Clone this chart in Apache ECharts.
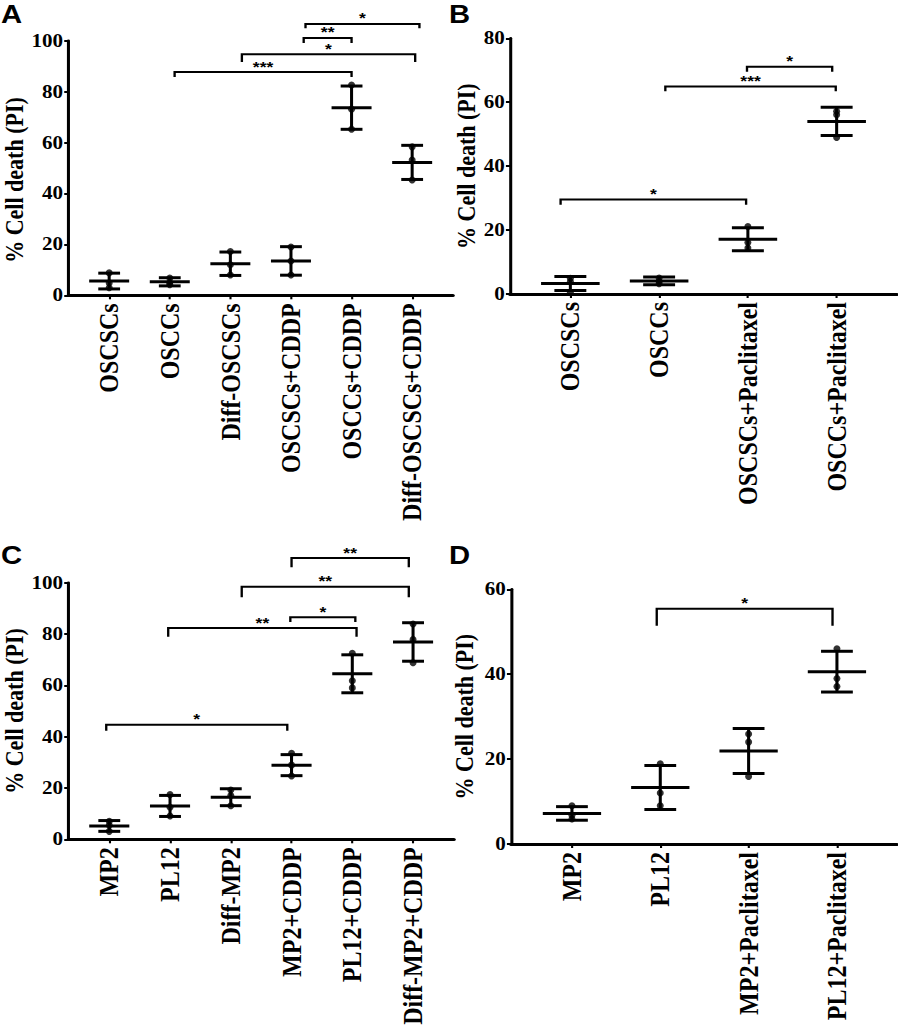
<!DOCTYPE html>
<html>
<head>
<meta charset="utf-8">
<script src="https://cdn.jsdelivr.net/npm/echarts@6/dist/echarts.min.js"></script>
<style>
    html, body { margin: 0; padding: 0; background: #fff; overflow: hidden; }
    /* the published figure is stretched sideways, so the chart is drawn narrow and widened */
    #chart { width: 767.5px; height: 1028px; transform: scaleX(1.17); transform-origin: 0 0; }
</style>
</head>
<body>
<div id="chart"></div>
<script>
// A - CDDP on OSCSCs / OSCCs
const groupsA = ['OSCSCs', 'OSCCs', 'Diff-OSCSCs', 'OSCSCs+CDDP', 'OSCCs+CDDP', 'Diff-OSCSCs+CDDP']
const pointsA = [[8.8, 4.8, 3.0], [6.8, 5.0, 4.2], [17.2, 12.0, 8.0], [19.0, 13.5, 8.0], [82.6, 73.1, 65.2], [58.3, 53.1, 45.3]]
const meansA = [5.6, 5.3, 12.4, 13.5, 73.7, 52.2]
const sdsA = [3.1, 1.6, 4.6, 5.6, 8.5, 6.7]
// [from group, to group, bar level, leg end]
const bracketsA = [[1.08, 4.0, 87.7, 85.7], [2.19, 5.05, 94.7, 91.6], [3.21, 4.0, 101.1, 99.1], [3.24, 5.12, 106.6, 104.9]]
const starsA = ['***', '*', '**', '*']
const yTicksA = [0, 20, 40, 60, 80, 100]

// B - paclitaxel on OSCSCs / OSCCs
const groupsB = ['OSCSCs', 'OSCCs', 'OSCSCs+Paclitaxel', 'OSCCs+Paclitaxel']
const pointsB = [[4.9, 3.9, 0.5], [5.0, 3.9, 3.2], [21.1, 16.1, 14.4], [57.2, 56.1, 49.0]]
const meansB = [3.3, 4.1, 17.1, 54.0]
const sdsB = [2.2, 1.2, 3.6, 4.4]
const bracketsB = [[-0.11, 1.98, 29.6, 27.9], [1.07, 2.99, 64.9, 63.4], [1.99, 2.95, 71.1, 69.5]]
const starsB = ['*', '***', '*']
const yTicksB = [0, 20, 40, 60, 80]

// C - CDDP on MP2 / PL12
const groupsC = ['MP2', 'PL12', 'Diff-MP2', 'MP2+CDDP', 'PL12+CDDP', 'Diff-MP2+CDDP']
const pointsC = [[7.0, 5.5, 3.1], [17.4, 12.5, 9.1], [19.2, 17.1, 13.1], [33.5, 28.9, 24.7], [72.5, 61.8, 59.0], [83.9, 77.9, 68.8]]
const meansC = [5.2, 13.0, 16.4, 28.9, 64.5, 76.9]
const sdsC = [2.1, 4.1, 3.3, 4.1, 7.4, 7.5]
const bracketsC = [[-0.05, 2.93, 44.6, 42.3], [0.97, 4.07, 82.3, 78.9], [2.98, 4.05, 86.5, 84.7], [2.18, 4.93, 98.4, 94.3], [3.0, 4.93, 109.6, 106.0]]
const starsC = ['*', '**', '*', '**', '**']
const yTicksC = [0, 20, 40, 60, 80, 100]

// D - paclitaxel on MP2 / PL12
const groupsD = ['MP2', 'PL12', 'MP2+Paclitaxel', 'PL12+Paclitaxel']
const pointsD = [[9.0, 6.8, 5.9], [18.9, 12.0, 9.0], [25.9, 24.0, 15.9], [46.0, 39.0, 37.1]]
const meansD = [7.2, 13.3, 21.9, 40.6]
const sdsD = [1.6, 5.2, 5.3, 4.8]
const bracketsD = [[0.96, 2.95, 55.4, 51.4]]
const starsD = ['*']
const yTicksD = [0, 20, 40, 60]

const SX = 1.17
const SERIF = '"Liberation Serif", "Times New Roman", serif'
const SANS = '"Liberation Sans", Arial, sans-serif'

// layout in screen pixels, divided by SX where horizontal
const panels = [
    { letter: 'A', groups: groupsA, points: pointsA, means: meansA, sds: sdsA, brackets: bracketsA, stars: starsA, yTicks: yTicksA,
      box: [67, 40.7, 386, 254.6], xRange: [-0.674, 5.674], nameGap: 34, nameShift: 24, letterPos: [1, 2] },
    { letter: 'B', groups: groupsB, points: pointsB, means: meansB, sds: sdsB, brackets: bracketsB, stars: starsB, yTicks: yTicksB,
      box: [510, 38.3, 387, 255.7], xRange: [-0.68, 3.68], nameGap: 28, nameShift: 0, letterPos: [449, 2] },
    { letter: 'C', groups: groupsC, points: pointsC, means: meansC, sds: sdsC, brackets: bracketsC, stars: starsC, yTicks: yTicksC,
      box: [68, 582.7, 386, 256.6], xRange: [-0.674, 5.674], nameGap: 35, nameShift: 0, letterPos: [1, 543] },
    { letter: 'D', groups: groupsD, points: pointsD, means: meansD, sds: sdsD, brackets: bracketsD, stars: starsD, yTicks: yTicksD,
      box: [511, 589.3, 386, 254.7], xRange: [-0.69, 3.68], nameGap: 34, nameShift: 0, letterPos: [449, 543] }
]

const black = '#000'
const seg = (a, b, w) => ({
    type: 'line',
    shape: { x1: a[0], y1: a[1], x2: b[0], y2: b[1] },
    style: { stroke: black, lineWidth: w }
})

const option = { animation: false, backgroundColor: '#fff', grid: [], xAxis: [], yAxis: [], series: [], graphic: [] }

panels.forEach((p, i) => {
    const idx = p.groups.map((g, k) => k)
    option.grid.push({ left: p.box[0] / SX, top: p.box[1], width: p.box[2] / SX, height: p.box[3] })
    option.xAxis.push({
        type: 'value',
        gridIndex: i,
        min: p.xRange[0],
        max: p.xRange[1],
        splitLine: { show: false },
        axisLine: { show: true, onZero: false, lineStyle: { color: black, width: 3 } },
        axisTick: { show: true, customValues: idx, length: 4, lineStyle: { color: black, width: 1.8 } },
        axisLabel: {
            customValues: idx,
            rotate: 90,
            margin: 8,
            formatter: v => p.groups[Math.round(v)],
            color: black,
            fontFamily: SERIF,
            fontWeight: 'bold',
            fontSize: 24
        }
    })
    option.yAxis.push({
        type: 'value',
        gridIndex: i,
        min: p.yTicks[0],
        max: p.yTicks[p.yTicks.length - 1],
        interval: p.yTicks[1] - p.yTicks[0],
        name: '% Cell death (PI)',
        nameLocation: 'middle',
        nameGap: p.nameGap / SX,
        nameTextStyle: {
            color: black,
            fontFamily: SERIF,
            fontWeight: 'bold',
            fontSize: 22,
            padding: [0, p.nameShift, 0, 0]
        },
        splitLine: { show: false },
        axisLine: { show: true, onZero: false, lineStyle: { color: black, width: 2.6 } },
        axisTick: { show: true, length: 3.5, lineStyle: { color: black, width: 2 } },
        axisLabel: { margin: 4.5, color: black, fontFamily: SERIF, fontWeight: 'bold', fontSize: 18 }
    })

    // individual replicates
    option.series.push({
        type: 'scatter',
        xAxisIndex: i,
        yAxisIndex: i,
        symbolSize: [7 / SX, 7],
        itemStyle: { color: black },
        z: 3,
        data: p.points.flatMap((vals, k) => vals.map(v => [k, v]))
    })

    // mean with SD
    option.series.push({
        type: 'custom',
        xAxisIndex: i,
        yAxisIndex: i,
        z: 2,
        data: p.means.map((m, k) => [k, m, p.sds[k]]),
        renderItem: (params, api) => {
            const x = api.value(0)
            const m = api.value(1)
            const s = api.value(2)
            return {
                type: 'group',
                children: [
                    seg(api.coord([x, m + s]), api.coord([x, m - s]), 2.6),
                    seg(api.coord([x - 0.18, m + s]), api.coord([x + 0.18, m + s]), 3),
                    seg(api.coord([x - 0.18, m - s]), api.coord([x + 0.18, m - s]), 3),
                    seg(api.coord([x - 0.33, m]), api.coord([x + 0.33, m]), 3)
                ]
            }
        }
    })

    // significance brackets
    option.series.push({
        type: 'custom',
        xAxisIndex: i,
        yAxisIndex: i,
        clip: false,
        z: 4,
        data: p.brackets,
        renderItem: (params, api) => {
            const x1 = api.value(0)
            const x2 = api.value(1)
            const lv = api.value(2)
            const leg = api.value(3)
            const a = api.coord([x1, leg])
            const b = api.coord([x1, lv])
            const c = api.coord([x2, lv])
            const d = api.coord([x2, leg])
            return {
                type: 'group',
                children: [
                    { type: 'polyline', shape: { points: [a, b, c, d] }, style: { stroke: black, lineWidth: 2, fill: null } },
                    {
                        type: 'text',
                        x: (b[0] + c[0]) / 2,
                        y: b[1] - 6,
                        style: {
                            text: p.stars[params.dataIndex],
                            fill: black,
                            font: 'bold 15px ' + SANS,
                            align: 'center',
                            verticalAlign: 'middle'
                        }
                    }
                ]
            }
        }
    })

    option.graphic.push({
        type: 'text',
        left: p.letterPos[0] / SX,
        top: p.letterPos[1],
        style: { text: p.letter, fill: black, font: 'bold 25px ' + SANS }
    })
})

const chart = echarts.init(document.getElementById('chart'), null, { renderer: 'svg' })
chart.setOption(option)
</script>
</body>
</html>
